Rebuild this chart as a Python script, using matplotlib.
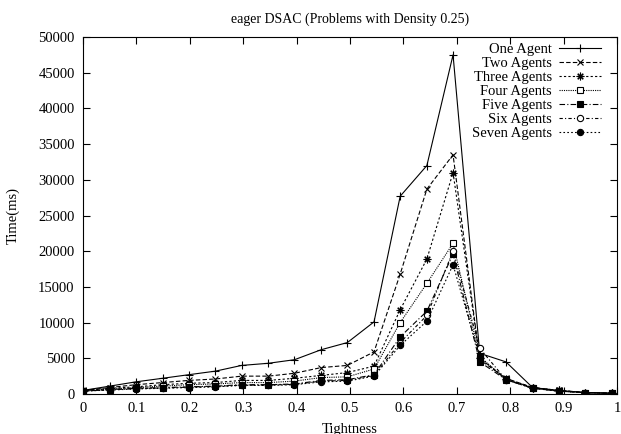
import matplotlib
matplotlib.use("Agg")
import matplotlib.pyplot as plt

tightness = [0, 0.05, 0.099, 0.149, 0.198, 0.248, 0.297, 0.347, 0.396, 0.446, 0.495,
             0.545, 0.594, 0.644, 0.693, 0.743, 0.792, 0.842, 0.891, 0.941, 0.99]

one_agent = [500, 1100, 1700, 2200, 2700, 3200, 4000, 4300, 4800, 6200, 7200,
             10100, 27700, 32000, 47500, 5700, 4500, 900, 500, 200, 100]
two_agents = [500, 900, 1300, 1600, 1900, 2100, 2500, 2500, 2900, 3700, 4000,
              5900, 16800, 28700, 33500, 4800, 2200, 900, 500, 200, 100]
three_agents = [450, 800, 1000, 1300, 1500, 1600, 1900, 1900, 2200, 2600, 3000,
                3900, 11800, 18900, 31000, 5000, 2100, 900, 500, 200, 100]
four_agents = [450, 700, 900, 1100, 1300, 1400, 1600, 1600, 1800, 2300, 2400,
               3500, 10000, 15500, 21100, 5200, 2100, 900, 400, 200, 100]
five_agents = [400, 600, 800, 900, 1000, 1100, 1300, 1300, 1400, 1900, 2000,
               2700, 8000, 11600, 19600, 4500, 2000, 800, 400, 200, 100]
six_agents = [400, 600, 750, 850, 950, 1050, 1250, 1250, 1350, 1800, 1900,
              2600, 7200, 11000, 20000, 6400, 2000, 800, 400, 200, 100]
seven_agents = [400, 550, 700, 800, 900, 1000, 1200, 1200, 1300, 1700, 1800,
                2500, 6800, 10200, 18100, 5200, 2000, 800, 400, 200, 100]

labels = ["One Agent", "Two Agents", "Three Agents", "Four Agents",
          "Five Agents", "Six Agents", "Seven Agents"]
series = [one_agent, two_agents, three_agents, four_agents,
          five_agents, six_agents, seven_agents]

xticks = [0, 0.1, 0.2, 0.3, 0.4, 0.5, 0.6, 0.7, 0.8, 0.9, 1]
xtick_labels = ["0", "0.1", "0.2", "0.3", "0.4", "0.5", "0.6", "0.7", "0.8", "0.9", "1"]
yticks = [0, 5000, 10000, 15000, 20000, 25000, 30000, 35000, 40000, 45000, 50000]

plt.rcParams['font.family'] = ['Liberation Serif', 'DejaVu Serif']
plt.rcParams['font.size'] = 10.5

styles = [
    dict(linestyle='-', marker='+', mfc='black', ms=6),
    dict(linestyle=(0, (4, 2)), marker='x', mfc='black', ms=5),
    dict(linestyle=(0, (2, 2)), marker=(8, 2, 0), mfc='black', ms=5.5),
    dict(linestyle=(0, (1, 1)), marker='s', mfc='white', ms=5),
    dict(linestyle=(0, (5, 2, 1, 2)), marker='s', mfc='black', ms=5),
    dict(linestyle=(0, (3, 2, 1, 2)), marker='o', mfc='white', ms=4.5),
    dict(linestyle=(0, (1.5, 2)), marker='o', mfc='black', ms=4.5),
]

fig = plt.figure(figsize=(6.21, 4.34), dpi=100)
ax = fig.add_axes([0.1337, 0.0922, 0.8598, 0.8225])

for lab, ys, st in zip(labels, series, styles):
    ax.plot(tightness, ys, color='black', lw=0.8, mec='black', mew=0.8,
            label=lab, **st)

ax.set_xlim(0, 1)
ax.set_ylim(0, 50000)
ax.set_xticks(xticks)
ax.set_xticklabels(xtick_labels)
ax.set_yticks(yticks)
ax.tick_params(direction='in', top=True, right=True, length=5, width=0.8,
               labelsize=10.5, pad=6)
for s in ax.spines.values():
    s.set_linewidth(0.8)

ax.set_title("eager DSAC (Problems with Density 0.25)", fontsize=10, pad=10)
ax.set_xlabel("Tightness", fontsize=10.5)
ax.set_ylabel("Time(ms)", fontsize=10.5)
ax.xaxis.set_label_coords(0.5, -0.08)
ax.yaxis.set_label_coords(-0.118, 0.5)

ax.legend(loc='upper right', frameon=False, markerfirst=False, handlelength=2.9,
          fontsize=10.5, labelspacing=0.06, borderaxespad=0.5, borderpad=0.3,
          handletextpad=0.5, bbox_to_anchor=(1 - 4 / 534, 1 + 6 / 357))

fig.savefig("out.png", dpi=100)
